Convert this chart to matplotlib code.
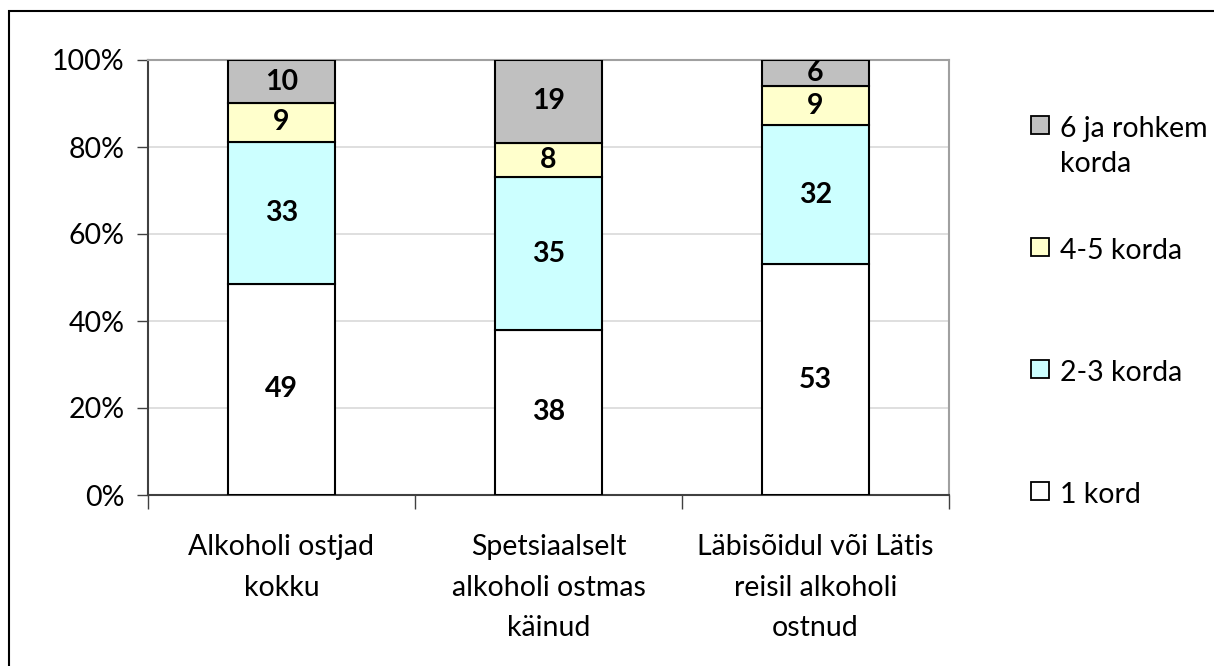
import matplotlib
matplotlib.use("Agg")
import matplotlib.pyplot as plt
from matplotlib.patches import Rectangle
import numpy as np

plt.rcParams['font.family'] = ['Lato', 'DejaVu Sans']

categories = ["Alkoholi ostjad\nkokku",
              "Spetsiaalselt\nalkoholi ostmas\nkäinud",
              "Läbisõidul või Lätis\nreisil alkoholi\nostnud"]
series_names = ["1 kord", "2-3 korda", "4-5 korda", "6 ja rohkem\nkorda"]
kord_1 = [49, 38, 53]
korda_2_3 = [33, 35, 32]
korda_4_5 = [9, 8, 9]
korda_6_plus = [10, 19, 6]
colors = ["#FFFFFF", "#CCFFFF", "#FFFFCC", "#C0C0C0"]

FS = 20.5
W, H = 1214, 666

data = np.array([kord_1, korda_2_3, korda_4_5, korda_6_plus], dtype=float)
pct = data / data.sum(axis=0) * 100

fig = plt.figure(figsize=(W / 100, H / 100), dpi=100)
ax = fig.add_axes([148 / W, 171 / H, 801 / W, 435 / H])

# outer frame (only top/left edges show in the original)
fig.patches.append(Rectangle((9 / W, -0.1), 1.2, 655 / H + 0.1,
                             transform=fig.transFigure, fill=False,
                             edgecolor="black", linewidth=1.5))

x = np.arange(len(categories))
bottom = np.zeros(len(categories))
for i in range(len(series_names)):
    ax.bar(x, pct[i], 0.4, bottom=bottom, color=colors[i],
           edgecolor="black", linewidth=1.5, zorder=3)
    for j in range(len(categories)):
        ax.text(x[j], bottom[j] + pct[i][j] / 2, f"{int(data[i][j])}",
                ha="center", va="center", fontsize=FS, fontweight="bold",
                zorder=4)
    bottom += pct[i]

ax.set_xlim(-0.5, len(categories) - 0.5)
ax.set_ylim(0, 100)
ax.set_yticks(np.arange(0, 101, 20))
ax.set_yticklabels([f"{v}%" for v in range(0, 101, 20)], fontsize=FS)
ax.yaxis.grid(True, color="#D9D9D9", linewidth=1.2, zorder=0)
ax.set_axisbelow(True)

ax.set_xticks(x)
ax.set_xticklabels(categories, fontsize=FS, linespacing=1.7)
ax.set_xticks(np.arange(-0.5, len(categories), 1), minor=True)
ax.tick_params(axis="x", which="major", length=0, pad=28)
ax.tick_params(axis="x", which="minor", length=10, color="#404040", width=1)
ax.tick_params(axis="y", length=8, color="#404040", width=1, pad=9)

for side in ["left", "bottom"]:
    ax.spines[side].set_color("#404040")
    ax.spines[side].set_linewidth(1.5)
for side in ["top", "right"]:
    ax.spines[side].set_color("#A0A0A0")
    ax.spines[side].set_linewidth(1.5)

# legend, top series first, square aligned with first text line
sq = 18
for k, i in enumerate(range(len(series_names) - 1, -1, -1)):
    yc = 125 + 122 * k
    fig.patches.append(Rectangle((1031 / W, 1 - (yc + sq / 2) / H), sq / W, sq / H,
                                 transform=fig.transFigure, facecolor=colors[i],
                                 edgecolor="black", linewidth=1.3))
    for n, line in enumerate(series_names[i].split("\n")):
        fig.text(1060 / W, 1 - (yc + 12 + 35 * n) / H, line, fontsize=FS,
                 ha="left", va="baseline")

fig.savefig("out.png", dpi=100)
